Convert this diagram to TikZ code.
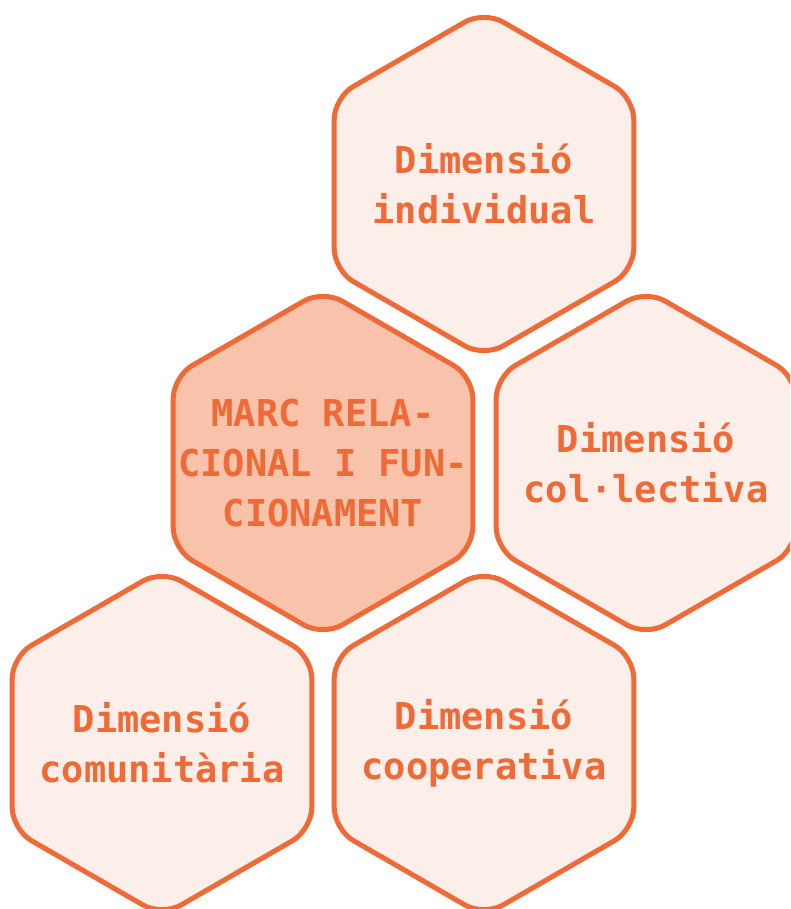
\documentclass[tikz,border=0pt]{standalone}
\usepackage{fontspec}
\setmonofont{DejaVu Sans Mono}
\usetikzlibrary{calc}
\definecolor{hexLine}{HTML}{EF6A36}
\definecolor{hexFill}{HTML}{FCEEE9}
\definecolor{hexCore}{HTML}{F9C3AB}
\def\hexR{173}
\def\hexRound{22}
\tikzset{
    hexText/.style={text=hexLine, align=center, inner sep=0pt,
        font=\ttfamily\bfseries\fontsize{37}{50}\selectfont}
}
\newcommand{\DrawHex}[5]{
    \begin{scope}[shift={(#2,#3)}]
        \draw[draw=hexLine, line width=5pt, fill=#4, rounded corners=\hexRound pt]
            (90:\hexR) -- (150:\hexR) -- (210:\hexR) -- (270:\hexR) -- (330:\hexR) -- (30:\hexR) -- cycle;
        \node[hexText] (#1) at (0,0) {#5};
    \end{scope}
}

\begin{document}
\begin{tikzpicture}[x=1pt, y=-1pt]
    \useasboundingbox (0,0) rectangle (790,909);
    \clip (0,0) rectangle (790,909);

    % --- top row ---
    \DrawHex{individual}{484}{184}{hexFill}{Dimensió\\individual}

    % --- middle row ---
    \DrawHex{marc}{323}{463}{hexCore}{MARC RELA-\\CIONAL I FUN-\\CIONAMENT}
    \DrawHex{collectiva}{646}{463}{hexFill}{Dimensió\\col·lectiva}

    % --- bottom row ---
    \DrawHex{comunitaria}{162}{743}{hexFill}{Dimensió\\comunitària}
    \DrawHex{cooperativa}{484}{743}{hexFill}{Dimensió\\cooperativa}
\end{tikzpicture}
\end{document}
